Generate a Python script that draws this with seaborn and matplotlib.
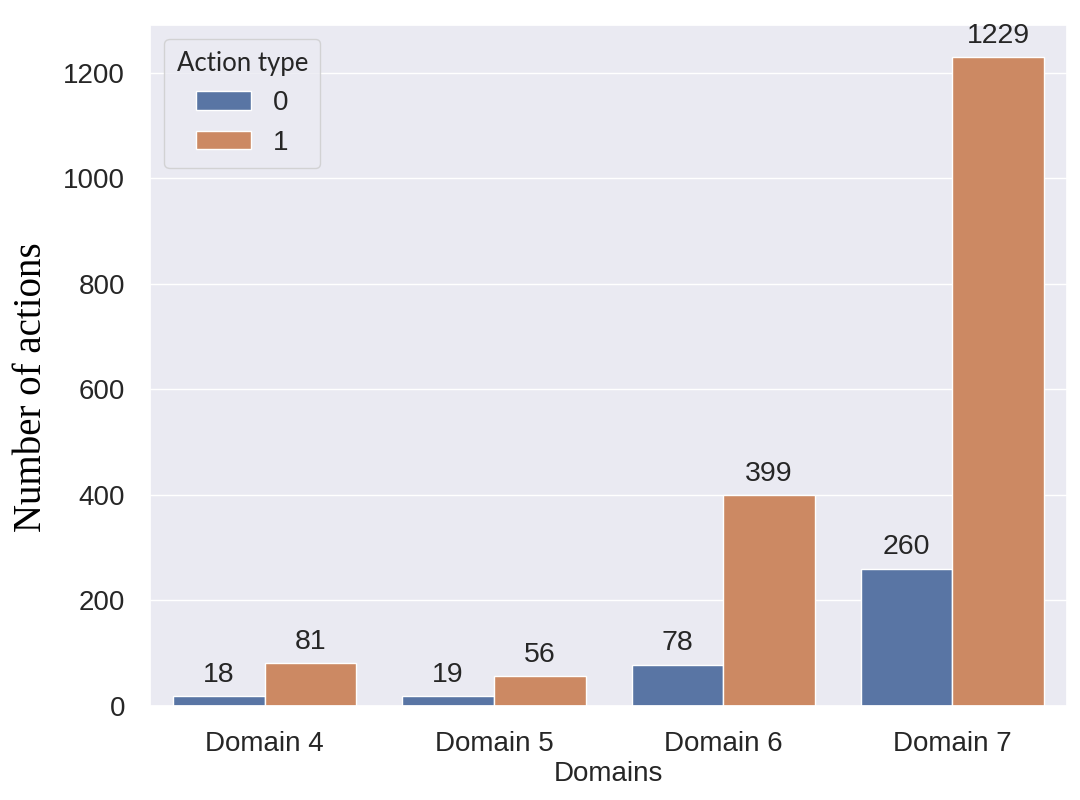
import pandas as pd
import seaborn as sns
import matplotlib.pyplot as plt

# data
domains = ["Domain 4", "Domain 5", "Domain 6", "Domain 7"]
actions_type0 = [18, 19, 78, 260]
actions_type1 = [81, 56, 399, 1229]

df = pd.DataFrame({
    "Domains": domains * 2,
    "Number of actions": actions_type0 + actions_type1,
    "Action type": ["0"] * len(domains) + ["1"] * len(domains),
})

sns.set_theme(style="darkgrid")
plt.rcParams['font.family'] = ['Liberation Sans', 'DejaVu Sans']

fig, ax = plt.subplots(figsize=(10.8, 8), dpi=100)
fig.subplots_adjust(left=0.139, right=0.988, top=0.969, bottom=0.1175)

sns.barplot(data=df, x="Domains", y="Number of actions", hue="Action type",
            ax=ax, edgecolor="white", linewidth=1)

# value labels on top of each bar
for cont in ax.containers:
    ax.bar_label(cont, padding=6, fontsize=20.5, color="#262626")

ax.tick_params(axis="both", labelsize=20, colors="#262626", pad=12)
ax.set_xlabel("Domains", fontsize=20, color="#262626", labelpad=3)
ax.set_ylabel("Number of actions", fontsize=28, family="Liberation Serif", color="black")
ax.yaxis.set_label_coords(-0.109, 0.468)
ax.set_yticks([0, 200, 400, 600, 800, 1000, 1200])

leg = ax.legend(title="Action type", loc="upper left", fontsize=20,
                title_fontproperties={"family": "Lato", "size": 18.5},
                handlelength=2.0, handleheight=0.65, borderpad=0.45)

plt.savefig("out.png")
